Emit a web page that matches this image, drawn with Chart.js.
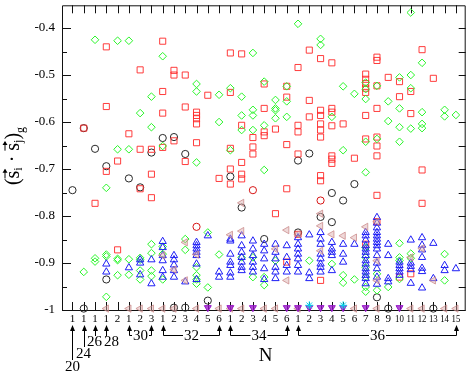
<!DOCTYPE html>
<html><head><meta charset="utf-8">
<script src="https://cdn.jsdelivr.net/npm/chart.js@4/dist/chart.umd.min.js"></script>
<style>html,body{margin:0;padding:0;background:#fff}canvas{display:block}</style>
</head><body>
<canvas id="c" width="471" height="374"></canvas>
<script>
// ---- category / tick data ----
const xTickLabels = ['1','1','1','1','2','1','2','3','1','2','3','4','5','6','1','2','3','4','5','6',
  '1','2','3','4','5','6','7','8','9','10','11','12','13','14','15'];
const yTickValues = [-1, -0.9, -0.8, -0.7, -0.6, -0.5, -0.4];
const yTickLabels = ['-1', '-0.9', '-0.8', '-0.7', '-0.6', '-0.5', '-0.4'];
const singleN = ['20', '24', '26', '28'];
const singleNIndex = [0, 1, 2, 3];
const groupN = ['30', '32', '34', '36'];
const groupFrom = [5, 8, 14, 20];
const groupTo = [7, 13, 19, 34];

// ---- series: [column index, value] ----
const blackCircles = [[0,-0.745],[1,-0.613],[1,-0.997],[2,-0.657],[3,-0.694],[3,-0.935],[5,-0.720],[6,-0.739],
  [7,-0.665],[8,-0.634],[9,-0.632],[9,-0.995],[10,-0.668],[10,-0.995],[12,-0.980],[14,-0.716],[15,-0.782],
  [17,-0.849],[20,-0.682],[20,-0.835],[21,-0.667],[22,-0.802],[23,-0.751],[23,-0.813],[24,-0.767],[25,-0.732],
  [27,-0.973],[28,-0.997],[32,-0.997]];
const redCircles = [[11,-0.823],[16,-0.745],[22,-0.767]];
const redSquares = [[1,-0.613],[2,-0.773],[3,-0.440],[3,-0.567],[3,-0.705],[4,-0.683],[4,-0.872],[5,-0.625],
  [6,-0.489],[6,-0.658],[6,-0.742],[7,-0.658],[7,-0.711],[7,-0.761],[8,-0.428],[8,-0.535],[8,-0.581],[8,-0.654],
  [9,-0.490],[9,-0.500],[9,-0.640],[10,-0.500],[10,-0.568],[10,-0.684],[11,-0.579],[11,-0.586],[11,-0.593],
  [11,-0.604],[11,-0.644],[12,-0.543],[13,-0.720],[14,-0.453],[14,-0.537],[14,-0.656],[14,-0.700],[14,-0.732],
  [15,-0.455],[15,-0.607],[15,-0.686],[15,-0.711],[15,-0.721],[16,-0.633],[16,-0.653],[16,-0.668],
  [17,-0.519],[17,-0.571],[17,-0.621],[17,-0.629],[18,-0.615],[18,-0.795],[19,-0.524],[19,-0.547],[19,-0.648],
  [19,-0.742],[19,-0.898],[20,-0.484],[20,-0.607],[20,-0.621],[20,-0.668],[20,-0.839],[21,-0.447],[21,-0.554],
  [21,-0.589],[22,-0.465],[22,-0.575],[22,-0.586],[22,-0.604],[22,-0.617],[22,-0.632],[22,-0.714],[22,-0.725],
  [22,-0.937],[23,-0.474],[23,-0.571],[23,-0.579],[23,-0.608],[23,-0.672],[23,-0.679],[23,-0.688],[24,-0.604],
  [25,-0.677],[26,-0.498],[26,-0.509],[26,-0.518],[26,-0.528],[26,-0.537],[26,-0.586],[26,-0.636],[26,-0.860],
  [27,-0.462],[27,-0.469],[27,-0.523],[27,-0.571],[27,-0.632],[27,-0.651],[27,-0.672],[27,-0.756],[27,-0.812],
  [28,-0.505],[29,-0.514],[29,-0.546],[29,-0.930],[30,-0.535],[30,-0.582],[30,-0.923],[31,-0.446],[31,-0.702],
  [31,-0.773],[32,-0.507]];
const greenDiamonds = [[2,-0.425],[3,-0.740],[4,-0.427],[4,-0.658],[5,-0.427],[5,-0.658],[6,-0.581],[7,-0.546],
  [7,-0.611],[8,-0.460],[8,-0.651],[11,-0.519],[11,-0.535],[11,-0.686],[13,-0.542],[13,-0.600],[14,-0.528],
  [14,-0.660],[15,-0.546],[15,-0.586],[15,-0.617],[16,-0.453],[16,-0.574],[16,-0.586],[16,-0.617],[17,-0.514],
  [17,-0.607],[17,-0.702],[18,-0.553],[18,-0.571],[18,-0.575],[18,-0.592],[19,-0.524],[19,-0.556],[19,-0.589],
  [20,-0.391],[22,-0.423],[22,-0.436],[23,-0.589],[24,-0.524],[24,-0.660],[25,-0.540],[26,-0.516],[26,-0.530],
  [26,-0.551],[26,-0.642],[26,-0.707],[27,-0.523],[27,-0.636],[28,-0.556],[28,-0.598],[29,-0.505],[29,-0.571],
  [29,-0.611],[29,-0.642],[30,-0.367],[30,-0.500],[30,-0.528],[30,-0.614],[31,-0.474],[31,-0.579],[31,-0.604],
  [31,-0.613],[33,-0.574],[33,-0.588],[34,-0.585],
  [1,-0.919],[2,-0.890],[2,-0.897],[3,-0.882],[3,-0.886],[3,-0.972],[4,-0.891],[4,-0.894],[4,-0.926],[5,-0.892],
  [5,-0.925],[6,-0.889],[6,-0.893],[6,-0.916],[6,-0.935],[7,-0.860],[7,-0.879],[7,-0.916],[7,-0.928],[8,-0.865],
  [8,-0.881],[8,-0.935],[10,-0.849],[10,-0.872],[11,-0.909],[11,-0.926],[11,-0.935],[11,-0.944],[12,-0.835],
  [12,-0.952],[13,-0.882],[15,-0.888],[16,-0.888],[16,-0.930],[17,-0.930],[17,-0.947],[18,-0.895],[21,-0.895],
  [23,-0.902],[24,-0.926],[24,-0.942],[25,-0.935],[26,-0.867],[26,-0.888],[26,-0.909],[26,-0.930],[26,-0.951],
  [26,-0.961],[27,-0.923],[27,-0.958],[28,-0.951],[29,-0.858],[29,-0.888],[29,-0.895],[29,-0.934],[30,-0.880],
  [30,-0.890],[33,-0.881],[33,-0.937]];
const blueTriangles = [[3,-0.902],[3,-0.919],[5,-0.910],[6,-0.893],[6,-0.900],[6,-0.925],[7,-0.893],[7,-0.944],
  [8,-0.854],[8,-0.867],[8,-0.884],[8,-0.895],[8,-0.916],[8,-0.930],[9,-0.884],[9,-0.893],[9,-0.904],[9,-0.916],
  [9,-0.930],[10,-0.940],[11,-0.856],[11,-0.863],[11,-0.870],[11,-0.877],[11,-0.884],[11,-0.902],[11,-0.935],
  [12,-0.842],[13,-0.919],[13,-0.930],[14,-0.849],[14,-0.853],[14,-0.881],[14,-0.898],[14,-0.905],[14,-0.921],
  [14,-0.930],[15,-0.842],[15,-0.863],[15,-0.877],[15,-0.888],[15,-0.898],[15,-0.909],[15,-0.916],[16,-0.853],
  [16,-0.870],[16,-0.884],[16,-0.898],[16,-0.909],[16,-0.919],[17,-0.860],[17,-0.874],[17,-0.891],[17,-0.912],
  [17,-0.935],[18,-0.860],[18,-0.877],[18,-0.891],[18,-0.909],[18,-0.919],[18,-0.933],[19,-0.863],[19,-0.888],
  [19,-0.905],[19,-0.919],[20,-0.846],[20,-0.860],[20,-0.870],[20,-0.881],[20,-0.891],[20,-0.905],[20,-0.919],
  [21,-0.840],[21,-0.921],[21,-0.933],[22,-0.835],[22,-0.849],[22,-0.860],[22,-0.881],[22,-0.891],[22,-0.902],
  [22,-0.909],[22,-0.919],[23,-0.856],[23,-0.870],[23,-0.877],[23,-0.884],[23,-0.916],[24,-0.860],[24,-0.881],
  [24,-0.898],[25,-0.860],[26,-0.835],[26,-0.842],[26,-0.851],[26,-0.863],[26,-0.870],[26,-0.877],[26,-0.884],
  [26,-0.895],[26,-0.902],[26,-0.912],[26,-0.919],[26,-0.926],[26,-0.933],[26,-0.944],[27,-0.803],[27,-0.815],
  [27,-0.825],[27,-0.835],[27,-0.842],[27,-0.849],[27,-0.856],[27,-0.863],[27,-0.870],[27,-0.884],[27,-0.900],
  [27,-0.912],[27,-0.930],[27,-0.945],[28,-0.860],[28,-0.884],[28,-0.933],[28,-0.940],[29,-0.898],[29,-0.905],
  [29,-0.912],[29,-0.919],[29,-0.926],[30,-0.851],[30,-0.900],[30,-0.907],[30,-0.914],[30,-0.943],[31,-0.846],
  [31,-0.862],[31,-0.872],[31,-0.888],[31,-0.911],[31,-0.918],[31,-0.953],[32,-0.858],[32,-0.933],[33,-0.905],
  [33,-0.916],[34,-0.912]];
const pinkTriangles = [[3,-0.997],[5,-0.997],[6,-0.997],[7,-0.997],[8,-0.997],[9,-0.997],[11,-0.997],[13,-0.997],
  [14,-0.997],[15,-0.997],[17,-0.997],[18,-0.997],[20,-0.997],[25,-0.997],[27,-0.997],[30,-0.997],[31,-0.997],
  [33,-0.997],[34,-0.997],
  [8,-0.884],[9,-0.914],[10,-0.856],[10,-0.937],[11,-0.882],[14,-0.840],[15,-0.772],[15,-0.832],[18,-0.870],
  [19,-0.830],[19,-0.937],[20,-0.839],[22,-0.795],[22,-0.821],[22,-0.874],[23,-0.839],[24,-0.842],[25,-0.846],
  [26,-0.823],[27,-0.812],[27,-0.895],[27,-0.937],[30,-0.888],[31,-0.869],[32,-0.937]];
const purpleDown = [[12,-0.995],[14,-0.995],[16,-0.995],[19,-0.995],[20,-0.995],[21,-0.995],[22,-0.995],
  [23,-0.995],[24,-0.995],[26,-0.995],[29,-0.995]];
const cyanStars = [[21,-0.99],[24,-0.99]];

const toXY = arr => arr.map(p => ({x: p[0], y: p[1]}));
const SERIF = '"Liberation Serif", "DejaVu Serif", serif';

function ds(data, style, radius, border, fill, rot) {
  return { data: toXY(data), pointStyle: style, pointRadius: radius, pointHoverRadius: radius,
    borderColor: border, backgroundColor: fill, pointBorderWidth: 1, borderWidth: 1,
    pointRotation: rot || 0, showLine: false, clip: false };
}

const framePlugin = {
  id: 'frame',
  beforeDatasetsDraw(chart) {
    const {ctx, chartArea: a, scales: {x, y}} = chart;
    ctx.save();
    ctx.strokeStyle = '#111';
    ctx.lineWidth = 1;
    ctx.beginPath();
    ctx.rect(a.left + 0.5, a.top + 0.5, a.right - a.left - 1, a.bottom - a.top);
    // top and bottom ticks
    xTickLabels.forEach((l, i) => {
      const px = Math.round(x.getPixelForValue(i)) + 0.5;
      ctx.moveTo(px, a.top); ctx.lineTo(px, a.top + 8);
      ctx.moveTo(px, a.bottom); ctx.lineTo(px, a.bottom - 8);
    });
    // left / right ticks every 0.05
    for (let k = 0; k <= 12; k++) {
      const v = -1 + k * 0.05;
      const py = Math.round(y.getPixelForValue(v)) + 0.5;
      const major = k % 2 === 0;
      ctx.moveTo(a.left, py); ctx.lineTo(a.left + (major ? 9 : 5), py);
      ctx.moveTo(a.right, py); ctx.lineTo(a.right - 7, py);
    }
    ctx.stroke();
    ctx.restore();
  },
  afterDraw(chart) {
    const {ctx, chartArea: a, scales: {x, y}} = chart;
    ctx.save();
    ctx.fillStyle = '#000';
    ctx.strokeStyle = '#000';
    ctx.lineWidth = 1;
    // y tick labels
    ctx.font = '13px ' + SERIF;
    ctx.textAlign = 'right'; ctx.textBaseline = 'middle';
    yTickValues.forEach((v, i) => ctx.fillText(yTickLabels[i], a.left - 7, y.getPixelForValue(v)));
    // x tick labels
    ctx.font = '11px ' + SERIF;
    ctx.textAlign = 'center';
    xTickLabels.forEach((l, i) => {
      const px = x.getPixelForValue(i);
      ctx.save();
      ctx.translate(px, 319);
      if (l.length > 1) ctx.scale(0.8, 1);
      ctx.fillText(l, 0, 0);
      ctx.restore();
    });
    const tipY = 325;
    function arrowHead(px) {
      ctx.beginPath();
      ctx.moveTo(px, tipY); ctx.lineTo(px - 2.5, tipY + 6); ctx.lineTo(px + 2.5, tipY + 6); ctx.closePath();
      ctx.fill();
    }
    function vline(px, y0, y1) { ctx.beginPath(); ctx.moveTo(px, y0); ctx.lineTo(px, y1); ctx.stroke(); }
    ctx.font = '15px ' + SERIF;
    // single arrows
    const sEnd = [360, 347, 336, 336];
    const sLabX = [0, -1, -1, 5];
    const sLabY = [367, 354, 342, 342];
    singleN.forEach((n, k) => {
      const px = Math.round(x.getPixelForValue(singleNIndex[k])) + 0.5;
      arrowHead(px);
      vline(px, tipY + 3, sEnd[k]);
      ctx.fillText(n, px + sLabX[k], sLabY[k]);
    });
    // brackets
    const bY = 335.5;
    groupN.forEach((n, k) => {
      const x0 = Math.round(x.getPixelForValue(groupFrom[k])) + 0.5;
      const x1 = Math.round(x.getPixelForValue(groupTo[k])) + 0.5;
      const mid = (x0 + x1) / 2;
      const w = ctx.measureText(n).width;
      arrowHead(x0); arrowHead(x1);
      ctx.beginPath();
      ctx.moveTo(x0, tipY + 3); ctx.lineTo(x0, bY); ctx.lineTo(mid - w / 2 - 1, bY);
      ctx.moveTo(mid + w / 2 + 1, bY); ctx.lineTo(x1, bY); ctx.lineTo(x1, tipY + 3);
      ctx.stroke();
      ctx.fillText(n, mid, bY + 0.5);
    });
    // N
    ctx.font = '19px ' + SERIF;
    ctx.fillText('N', 265.5, 356);
    // y-axis title (s_i . s_j)_g with vector arrows
    ctx.translate(19, 156);
    ctx.rotate(-Math.PI / 2);
    ctx.textAlign = 'left'; ctx.textBaseline = 'alphabetic';
    const big = '20px ' + SERIF, small = '12px ' + SERIF;
    const parts = [
      {t: '(', f: big, dy: 0}, {t: 's', f: big, dy: 0, vec: true}, {t: 'i', f: small, dy: 3},
      {t: ' · ', f: big, dy: 0}, {t: 's', f: big, dy: 0, vec: true}, {t: 'j', f: small, dy: 3},
      {t: ')', f: big, dy: 0}, {t: 'g', f: small, dy: 5}];
    let total = 0;
    parts.forEach(p => { ctx.font = p.f; p.w = ctx.measureText(p.t).width; total += p.w; });
    let cx = -total / 2;
    parts.forEach(p => {
      ctx.font = p.f;
      ctx.fillText(p.t, cx, p.dy);
      if (p.vec) {
        const ay = -14, x0 = cx, x1 = cx + p.w + 1;
        ctx.beginPath(); ctx.moveTo(x0, ay); ctx.lineTo(x1, ay); ctx.stroke();
        ctx.beginPath(); ctx.moveTo(x1 + 1, ay); ctx.lineTo(x1 - 3, ay - 2.5); ctx.lineTo(x1 - 3, ay + 2.5);
        ctx.closePath(); ctx.fill();
      }
      cx += p.w;
    });
    ctx.restore();
  }
};

new Chart(document.getElementById('c'), {
  type: 'scatter',
  data: {
    datasets: [
      ds(cyanStars, 'star', 4, 'rgb(0,215,235)', 'rgba(0,215,235,0.3)'),
      ds(purpleDown, 'triangle', 4, 'rgb(150,20,200)', 'rgba(150,20,200,0.75)', 180),
      ds(pinkTriangles, 'triangle', 4.2, 'rgba(200,135,135,0.75)', 'rgba(220,170,170,0.45)', -90),
      ds(blueTriangles, 'triangle', 4.2, 'rgb(30,30,245)', 'rgba(0,0,0,0)'),
      ds(greenDiamonds, 'rectRot', 3.8, 'rgb(40,245,40)', 'rgba(0,0,0,0)'),
      ds(redSquares, 'rect', 4.3, 'rgba(255,40,40,0.9)', 'rgba(0,0,0,0)'),
      ds(redCircles, 'circle', 3.6, 'rgb(215,20,20)', 'rgba(0,0,0,0)'),
      ds(blackCircles, 'circle', 3.6, 'rgb(40,40,40)', 'rgba(0,0,0,0)')
    ]
  },
  options: {
    responsive: false,
    animation: false,
    events: [],
    layout: { padding: { left: 62, right: 3, top: 2, bottom: 64 } },
    plugins: { legend: { display: false }, tooltip: { enabled: false } },
    scales: {
      x: { type: 'linear', min: -0.93, max: 34.87, display: false },
      y: { type: 'linear', min: -1, max: -0.3516, display: false }
    }
  },
  plugins: [framePlugin]
});
</script>
</body></html>
